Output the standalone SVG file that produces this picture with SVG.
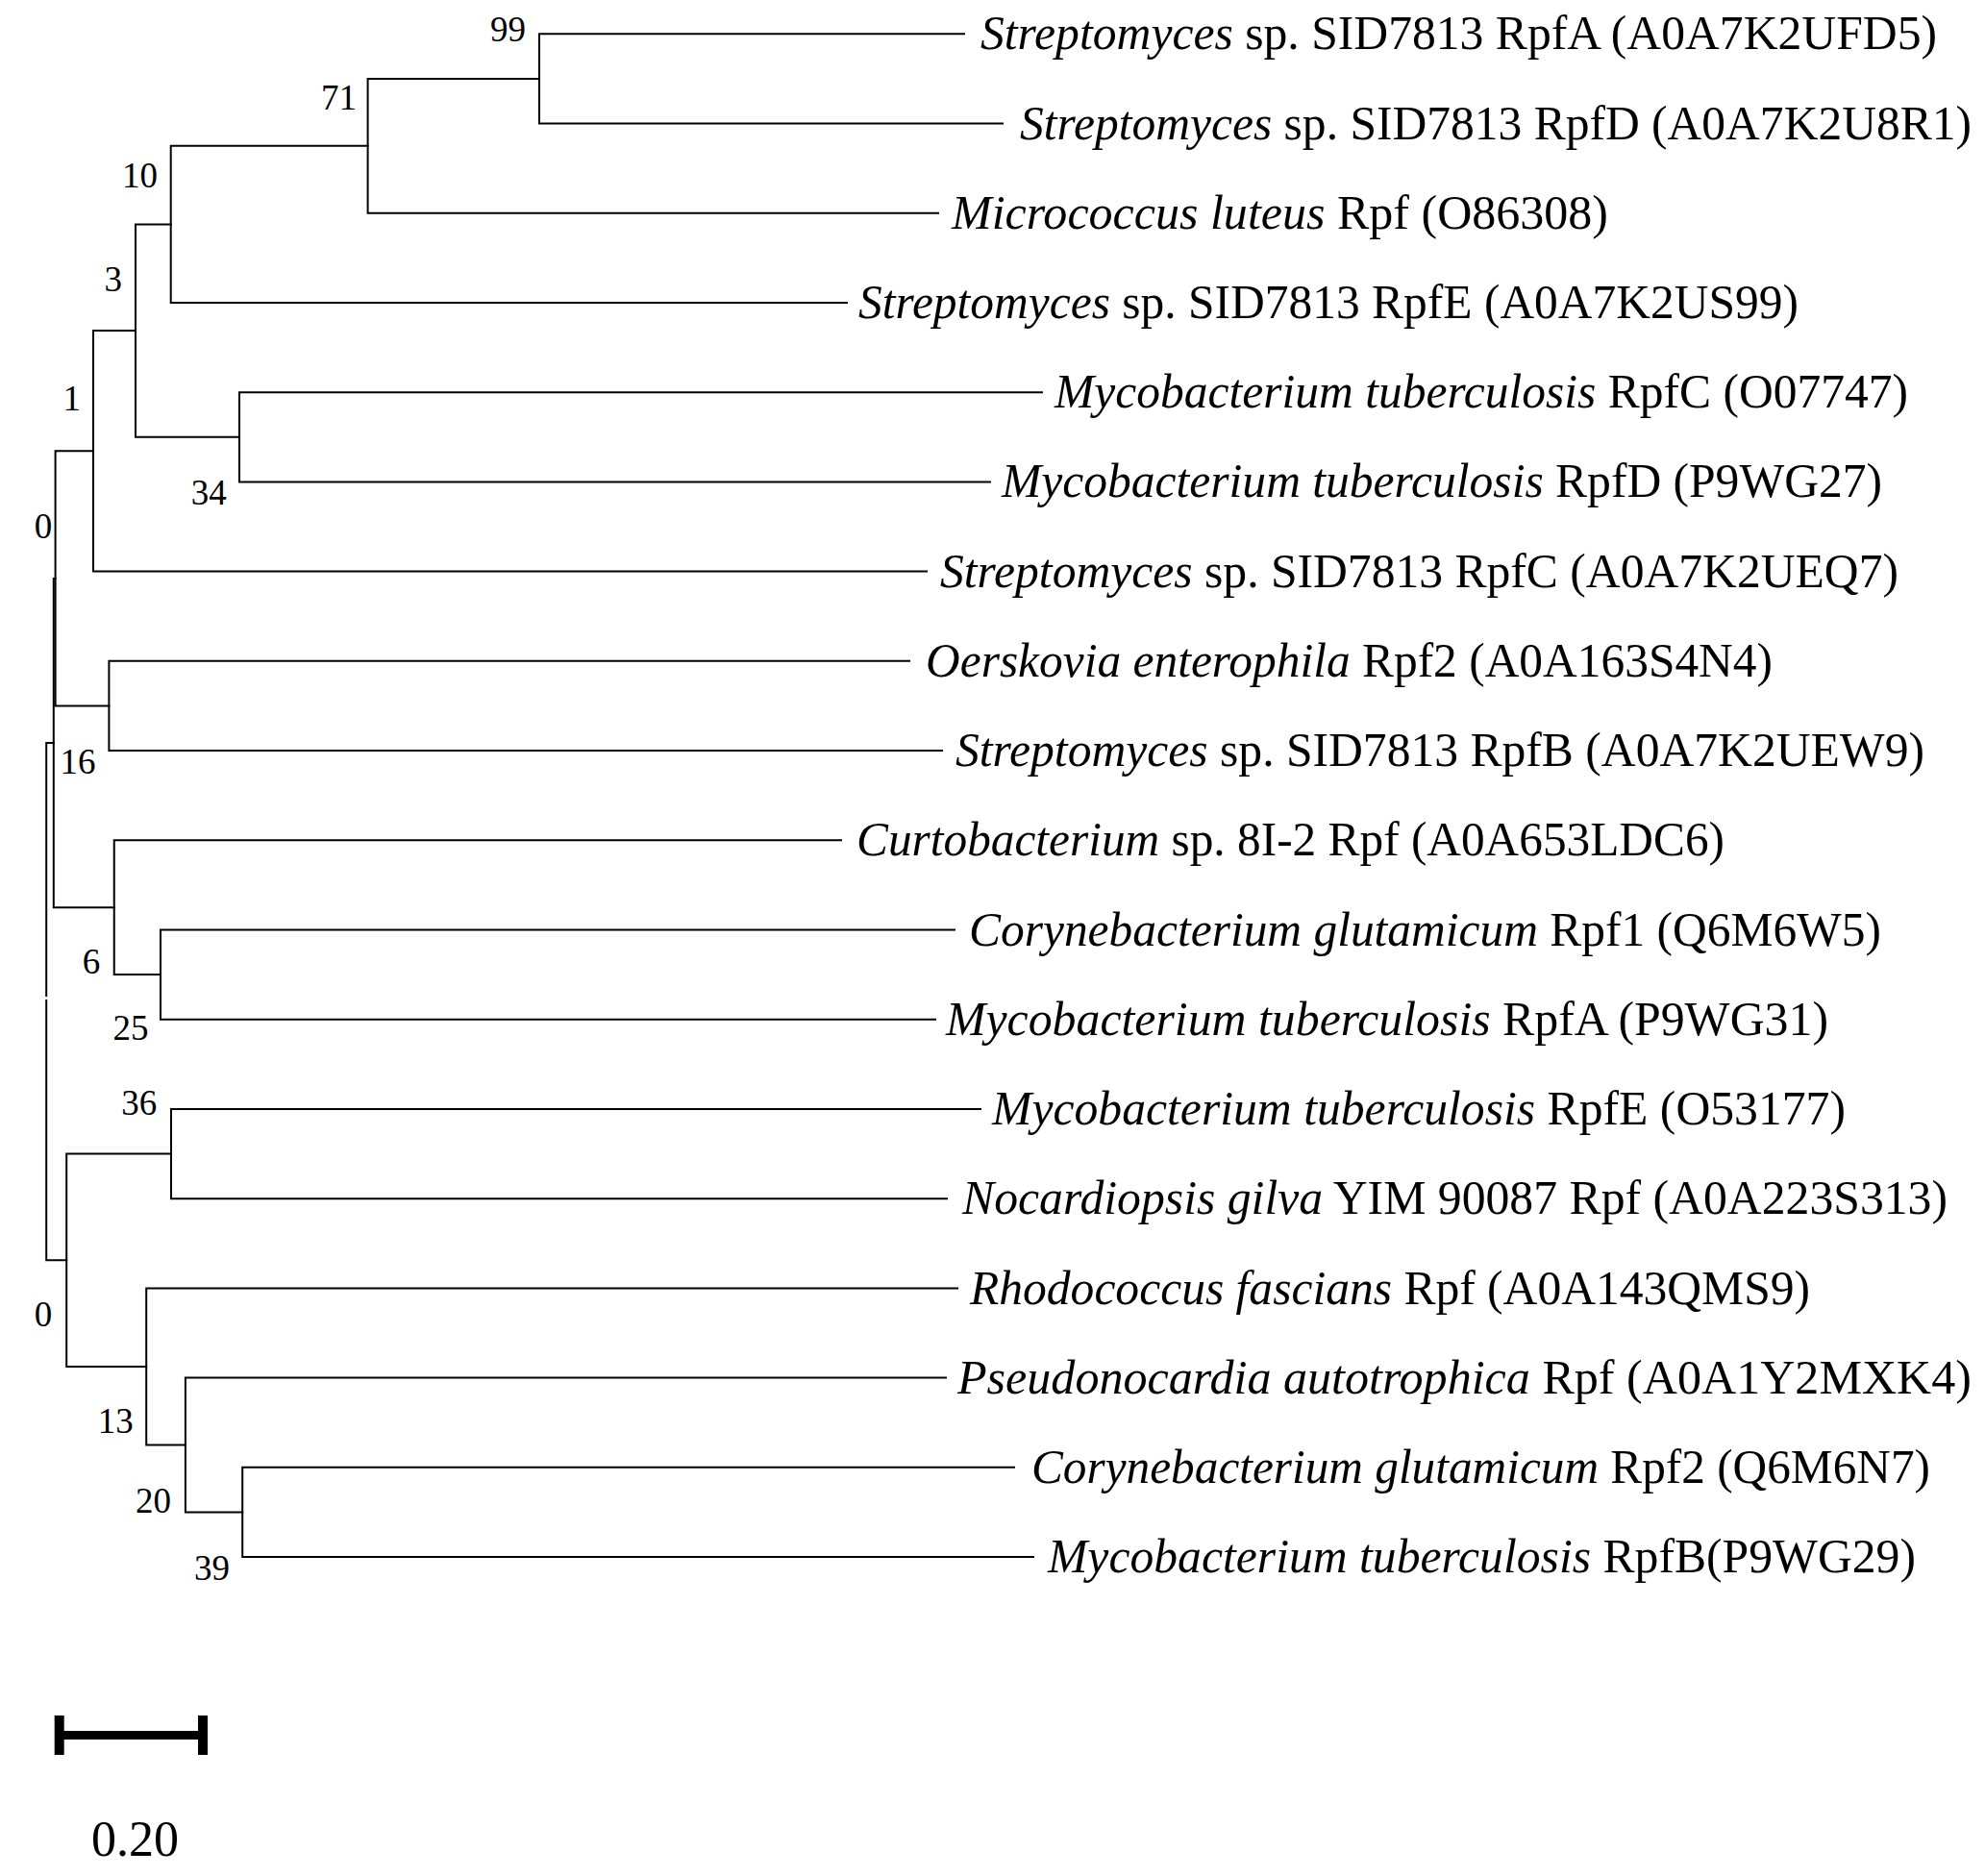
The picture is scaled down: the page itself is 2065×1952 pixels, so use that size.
<svg xmlns="http://www.w3.org/2000/svg" width="2065" height="1952" viewBox="0 0 2065 1952">
<style>
.br{fill:none;stroke:#000;stroke-width:2;stroke-linecap:square}
.lb{font-family:"Liberation Serif","Times New Roman",serif;font-size:50px;fill:#000;white-space:pre}
.i{font-style:italic}
.bs{font-family:"Liberation Serif","Times New Roman",serif;font-size:37px;fill:#000}
.sc{font-family:"Liberation Serif","Times New Roman",serif;font-size:52px;fill:#000}
</style>
<rect width="2065" height="1952" fill="#fff"/>
<g id="connectors" class="br">
<path d="M561,35.3H1003M561,128.5H1043M561,35.3V128.5"/>
<path d="M382.6,81.9H561M382.6,221.7H976M382.6,81.9V221.7"/>
<path d="M177.7,151.8H382.6M177.7,315H881M177.7,151.8V315"/>
<path d="M249,408.2H1084M249,501.4H1030M249,408.2V501.4"/>
<path d="M141,233.4H177.7M141,454.8H249M141,233.4V454.8"/>
<path d="M97,344.1H141M97,594.6H964M97,344.1V594.6"/>
<path d="M113.4,687.8H946M113.4,781.1H980M113.4,687.8V781.1"/>
<path d="M57.6,469.35H97M57.6,734.45H113.4M57.6,469.35V734.45"/>
<path d="M167,967.5H993M167,1060.7H973M167,967.5V1060.7"/>
<path d="M118.75,874.3H875M118.75,1014.1H167M118.75,874.3V1014.1"/>
<path d="M55.8,601.9H57.6M55.8,944.2H118.75M55.8,601.9V944.2"/>
<path d="M178,1153.9H1020M178,1247.2H985M178,1153.9V1247.2"/>
<path d="M252.2,1526.8H1055M252.2,1620H1075M252.2,1526.8V1620"/>
<path d="M192.9,1433.6H984M192.9,1573.4H252.2M192.9,1433.6V1573.4"/>
<path d="M152.2,1340.4H996M152.2,1503.5H192.9M152.2,1340.4V1503.5"/>
<path d="M69.2,1200.55H178M69.2,1421.95H152.2M69.2,1200.55V1421.95"/>
<path d="M48.2,773H55.8M48.2,1311.25H69.2M48.2,773V1036M48.2,1041V1311.25"/>
</g>
<g id="leaves" class="lb">
<g id="leaf-0"><text x="1020" y="51" textLength="995" lengthAdjust="spacingAndGlyphs"><tspan class="i">Streptomyces</tspan> sp. SID7813 RpfA (A0A7K2UFD5)</text></g>
<g id="leaf-1"><text x="1061" y="144.5" textLength="990" lengthAdjust="spacingAndGlyphs"><tspan class="i">Streptomyces</tspan> sp. SID7813 RpfD (A0A7K2U8R1)</text></g>
<g id="leaf-2"><text x="990" y="237.5" textLength="683" lengthAdjust="spacingAndGlyphs"><tspan class="i">Micrococcus luteus</tspan> Rpf (O86308)</text></g>
<g id="leaf-3"><text x="893" y="331" textLength="978" lengthAdjust="spacingAndGlyphs"><tspan class="i">Streptomyces</tspan> sp. SID7813 RpfE (A0A7K2US99)</text></g>
<g id="leaf-4"><text x="1097" y="424" textLength="888" lengthAdjust="spacingAndGlyphs"><tspan class="i">Mycobacterium tuberculosis</tspan> RpfC (O07747)</text></g>
<g id="leaf-5"><text x="1042" y="517" textLength="916" lengthAdjust="spacingAndGlyphs"><tspan class="i">Mycobacterium tuberculosis</tspan> RpfD (P9WG27)</text></g>
<g id="leaf-6"><text x="978" y="610.5" textLength="997" lengthAdjust="spacingAndGlyphs"><tspan class="i">Streptomyces</tspan> sp. SID7813 RpfC (A0A7K2UEQ7)</text></g>
<g id="leaf-7"><text x="963" y="703.5" textLength="881" lengthAdjust="spacingAndGlyphs"><tspan class="i">Oerskovia enterophila</tspan> Rpf2 (A0A163S4N4)</text></g>
<g id="leaf-8"><text x="994" y="797" textLength="1008" lengthAdjust="spacingAndGlyphs"><tspan class="i">Streptomyces</tspan> sp. SID7813 RpfB (A0A7K2UEW9)</text></g>
<g id="leaf-9"><text x="891" y="890" textLength="903" lengthAdjust="spacingAndGlyphs"><tspan class="i">Curtobacterium</tspan> sp. 8I-2 Rpf (A0A653LDC6)</text></g>
<g id="leaf-10"><text x="1008" y="983.5" textLength="949" lengthAdjust="spacingAndGlyphs"><tspan class="i">Corynebacterium glutamicum</tspan> Rpf1  (Q6M6W5)</text></g>
<g id="leaf-11"><text x="984" y="1076.5" textLength="918" lengthAdjust="spacingAndGlyphs"><tspan class="i">Mycobacterium tuberculosis</tspan> RpfA (P9WG31)</text></g>
<g id="leaf-12"><text x="1032" y="1170" textLength="888" lengthAdjust="spacingAndGlyphs"><tspan class="i">Mycobacterium tuberculosis</tspan> RpfE (O53177)</text></g>
<g id="leaf-13"><text x="1001" y="1263" textLength="1025" lengthAdjust="spacingAndGlyphs"><tspan class="i">Nocardiopsis gilva</tspan> YIM 90087 Rpf (A0A223S313)</text></g>
<g id="leaf-14"><text x="1009" y="1356.5" textLength="874" lengthAdjust="spacingAndGlyphs"><tspan class="i">Rhodococcus fascians</tspan> Rpf (A0A143QMS9)</text></g>
<g id="leaf-15"><text x="996" y="1449.5" textLength="1055" lengthAdjust="spacingAndGlyphs"><tspan class="i">Pseudonocardia autotrophica</tspan> Rpf (A0A1Y2MXK4)</text></g>
<g id="leaf-16"><text x="1073" y="1543" textLength="935" lengthAdjust="spacingAndGlyphs"><tspan class="i">Corynebacterium glutamicum</tspan> Rpf2 (Q6M6N7)</text></g>
<g id="leaf-17"><text x="1090" y="1636" textLength="903" lengthAdjust="spacingAndGlyphs"><tspan class="i">Mycobacterium tuberculosis</tspan> RpfB(P9WG29)</text></g>
</g>
<g id="bootstrap" class="bs">
<text x="510" y="42.7">99</text>
<text x="334" y="114">71</text>
<text x="127" y="195">10</text>
<text x="108.5" y="303">3</text>
<text x="65.6" y="427">1</text>
<text x="198.7" y="524.5">34</text>
<text x="35.7" y="560">0</text>
<text x="62.5" y="804.5">16</text>
<text x="85.7" y="1013">6</text>
<text x="117.4" y="1082">25</text>
<text x="126.3" y="1160">36</text>
<text x="35.7" y="1379.5">0</text>
<text x="101.8" y="1491">13</text>
<text x="141" y="1573.7">20</text>
<text x="202" y="1643.7">39</text>
</g>
<g id="scale-bar">
<path d="M57,1805.5H216" stroke="#000" stroke-width="9" fill="none"/>
<path d="M61.7,1785V1826M211,1785V1826" stroke="#000" stroke-width="10" fill="none"/>
<text class="sc" x="95" y="1931">0.20</text>
</g>
</svg>
